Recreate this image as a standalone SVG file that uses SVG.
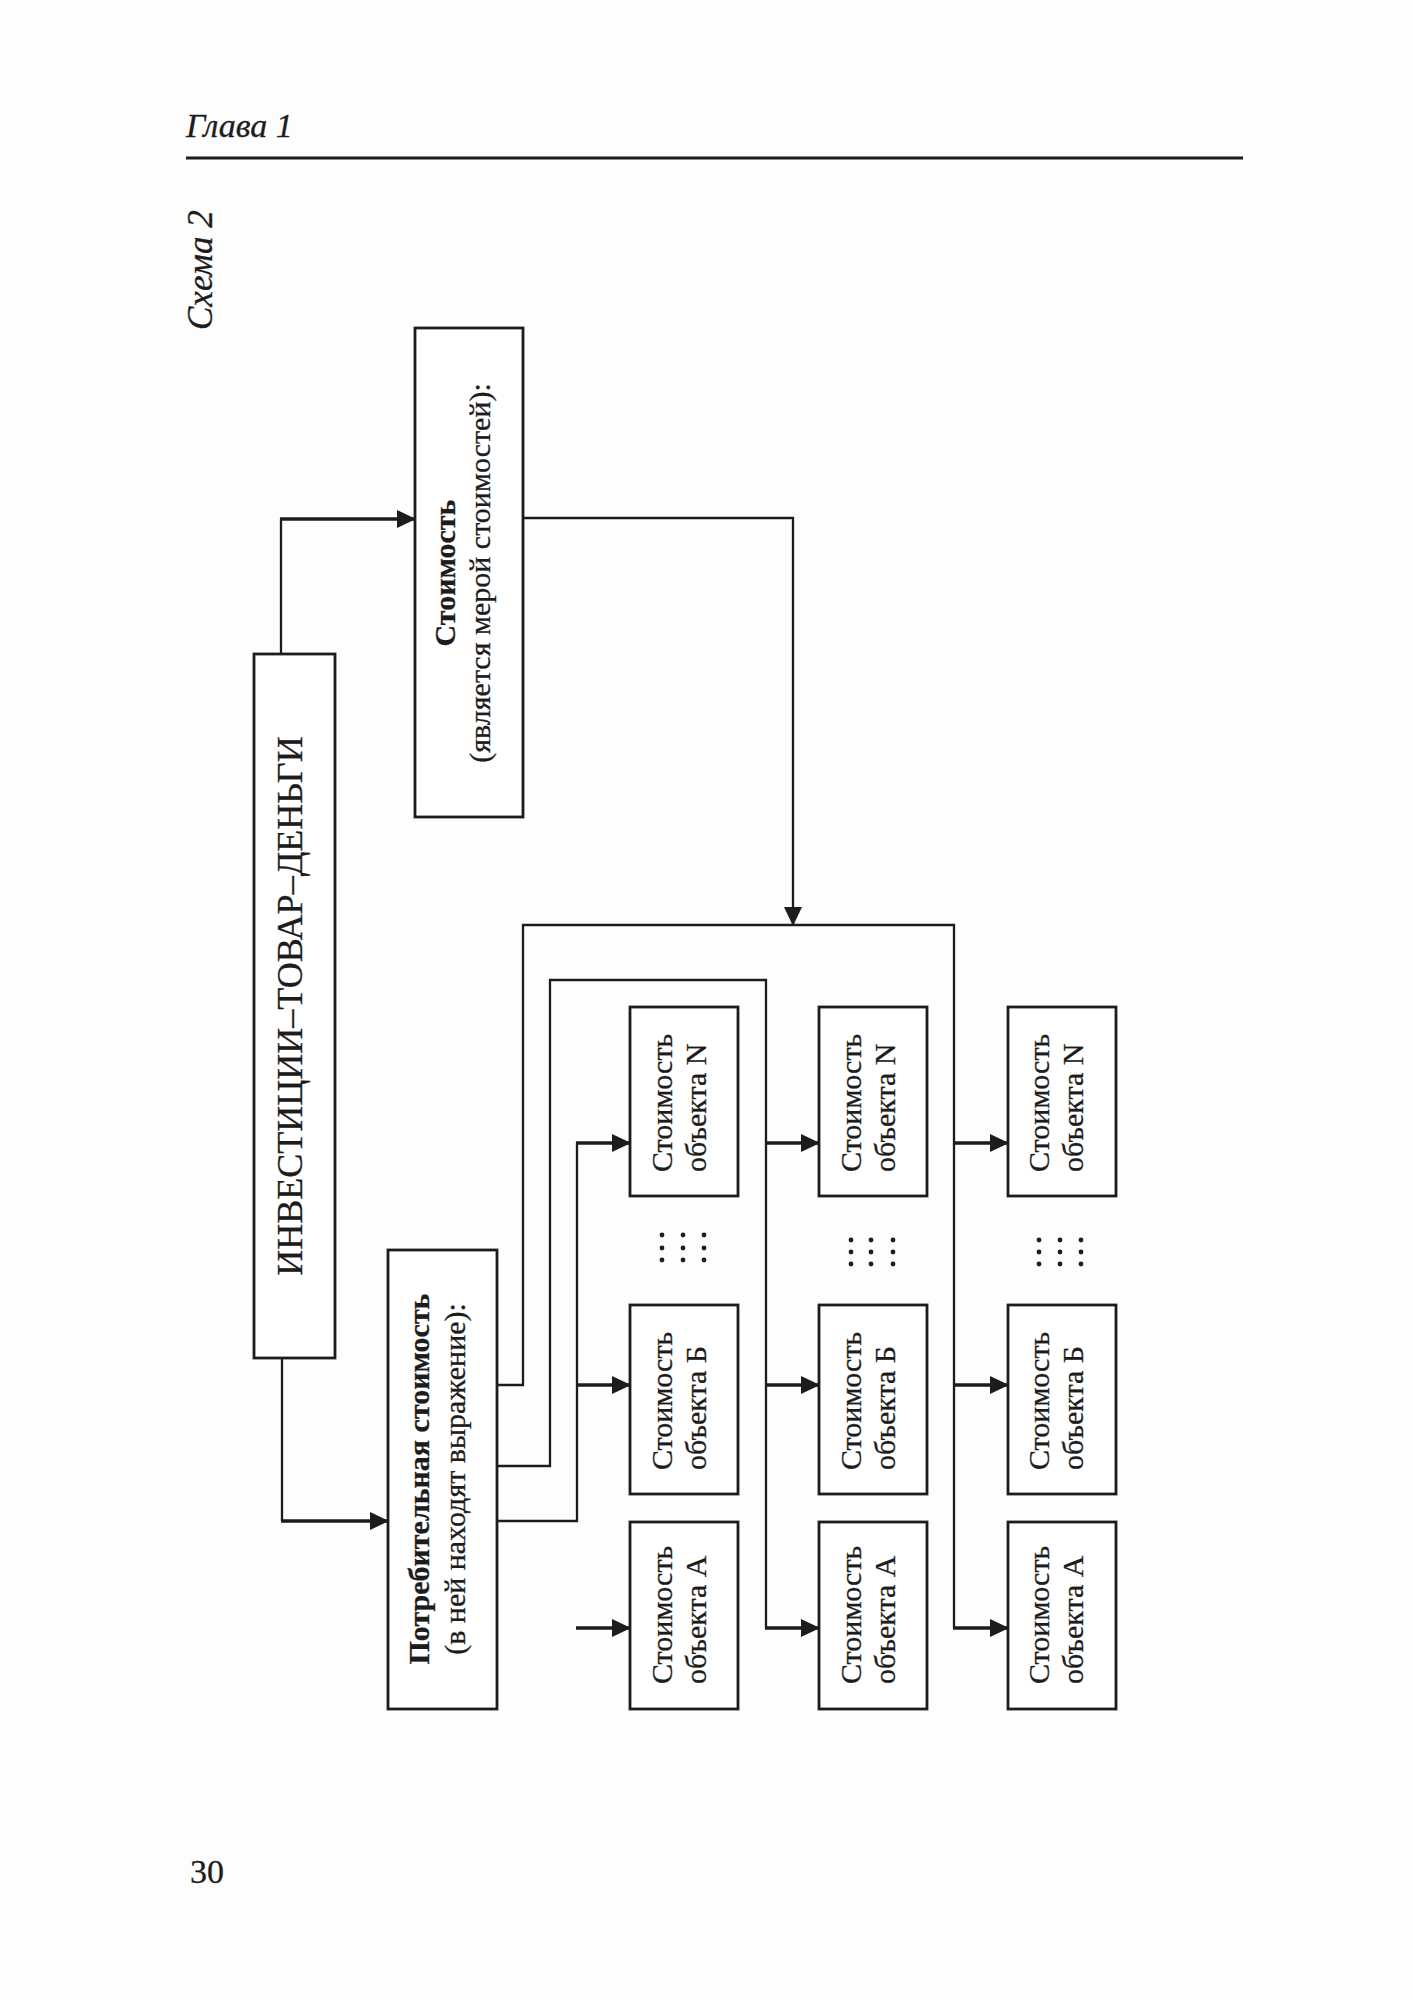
<svg xmlns="http://www.w3.org/2000/svg" width="1413" height="2000" viewBox="0 0 1413 2000">
<defs>
<style>
.bx{fill:#fff;stroke:#1c1c1c;stroke-width:2.8}
.cn{fill:none;stroke:#1c1c1c;stroke-width:2.3}
.ar{fill:none;stroke:#1c1c1c;stroke-width:3.3}
.t{font-family:"Liberation Serif","Times New Roman",serif;fill:#1c1c1c;stroke:#1c1c1c;stroke-width:0.3}
.ob{font-size:30px}
.b{font-weight:bold}
.it{font-style:italic}
.dot{fill:#1c1c1c}
</style>
<marker id="ah" viewBox="0 0 19 18" refX="18" refY="9" markerWidth="19" markerHeight="18" markerUnits="userSpaceOnUse" orient="auto">
<path d="M0,0 L19,9 L0,18 z" fill="#1c1c1c"/>
</marker>
</defs>
<rect width="1413" height="2000" fill="#fdfdfd"/>
<g id="header">
<text class="t it" x="186" y="137" font-size="34">Глава 1</text>
<line x1="186" y1="158" x2="1243" y2="158" stroke="#1c1c1c" stroke-width="2.8"/>
<text class="t it" font-size="35" transform="translate(212,330) rotate(-90)">Схема 2</text>
<text class="t" x="190" y="1883" font-size="34">30</text>
</g>
<g id="connectors">
<path class="cn" d="M281,654 V519"/>
<path class="ar" d="M280,519 H415" marker-end="url(#ah)"/>
<path class="cn" d="M282,1358 V1521"/>
<path class="ar" d="M281,1521 H388" marker-end="url(#ah)"/>
<path class="cn" d="M523,518 H793 V925" marker-end="url(#ah)"/>
<path class="cn" d="M497,1385 H523 V925 H954 V1628"/>
<path class="ar" d="M954,1143 H1008" marker-end="url(#ah)"/>
<path class="ar" d="M954,1385 H1008" marker-end="url(#ah)"/>
<path class="ar" d="M953,1628 H1008" marker-end="url(#ah)"/>
<path class="cn" d="M497,1466 H550 V980 H766 V1628"/>
<path class="ar" d="M766,1143 H819" marker-end="url(#ah)"/>
<path class="ar" d="M766,1385 H819" marker-end="url(#ah)"/>
<path class="ar" d="M765,1628 H819" marker-end="url(#ah)"/>
<path class="cn" d="M497,1521 H577 V1143"/>
<path class="ar" d="M576,1143 H630" marker-end="url(#ah)"/>
<path class="ar" d="M577,1385 H630" marker-end="url(#ah)"/>
<path class="ar" d="M576,1628 H630" marker-end="url(#ah)"/>
</g>
<g id="stoimost">
<rect class="bx" x="415" y="328" width="108" height="489"/>
<text class="t b" font-size="30" text-anchor="middle" transform="translate(455,573) rotate(-90)">Стоимость</text>
<text class="t" font-size="30" text-anchor="middle" transform="translate(490,573) rotate(-90)">(является мерой стоимостей):</text>
</g>
<g id="investicii">
<rect class="bx" x="254" y="654" width="81" height="704"/>
<text class="t" font-size="36" text-anchor="middle" transform="translate(302,1006) rotate(-90)">ИНВЕСТИЦИИ–ТОВАР–ДЕНЬГИ</text>
</g>
<g id="potrebitelnaya">
<rect class="bx" x="388" y="1250" width="109" height="459"/>
<text class="t b" font-size="30" text-anchor="middle" transform="translate(429,1479) rotate(-90)">Потребительная стоимость</text>
<text class="t" font-size="30" text-anchor="middle" transform="translate(465,1479) rotate(-90)">(в ней находят выражение):</text>
</g>
<g id="c1N"><rect class="bx" x="630" y="1007" width="108" height="189"/>
<text class="t ob" transform="translate(672,1172) rotate(-90)">Стоимость</text><text class="t ob" transform="translate(706,1172) rotate(-90)">объекта N</text></g>
<g id="c1B"><rect class="bx" x="630" y="1305" width="108" height="189"/>
<text class="t ob" transform="translate(672,1470) rotate(-90)">Стоимость</text><text class="t ob" transform="translate(706,1470) rotate(-90)">объекта Б</text></g>
<g id="c1A"><rect class="bx" x="630" y="1522" width="108" height="187"/>
<text class="t ob" transform="translate(672,1684) rotate(-90)">Стоимость</text><text class="t ob" transform="translate(706,1684) rotate(-90)">объекта А</text></g>
<g id="c2N"><rect class="bx" x="819" y="1007" width="108" height="189"/>
<text class="t ob" transform="translate(861,1172) rotate(-90)">Стоимость</text><text class="t ob" transform="translate(895,1172) rotate(-90)">объекта N</text></g>
<g id="c2B"><rect class="bx" x="819" y="1305" width="108" height="189"/>
<text class="t ob" transform="translate(861,1470) rotate(-90)">Стоимость</text><text class="t ob" transform="translate(895,1470) rotate(-90)">объекта Б</text></g>
<g id="c2A"><rect class="bx" x="819" y="1522" width="108" height="187"/>
<text class="t ob" transform="translate(861,1684) rotate(-90)">Стоимость</text><text class="t ob" transform="translate(895,1684) rotate(-90)">объекта А</text></g>
<g id="c3N"><rect class="bx" x="1008" y="1007" width="108" height="189"/>
<text class="t ob" transform="translate(1049,1172) rotate(-90)">Стоимость</text><text class="t ob" transform="translate(1083,1172) rotate(-90)">объекта N</text></g>
<g id="c3B"><rect class="bx" x="1008" y="1305" width="108" height="189"/>
<text class="t ob" transform="translate(1049,1470) rotate(-90)">Стоимость</text><text class="t ob" transform="translate(1083,1470) rotate(-90)">объекта Б</text></g>
<g id="c3A"><rect class="bx" x="1008" y="1522" width="108" height="187"/>
<text class="t ob" transform="translate(1049,1684) rotate(-90)">Стоимость</text><text class="t ob" transform="translate(1083,1684) rotate(-90)">объекта А</text></g>
<g id="dots">
<circle class="dot" cx="662" cy="1235" r="2.4"/><circle class="dot" cx="683" cy="1235" r="2.4"/><circle class="dot" cx="704" cy="1235" r="2.4"/>
<circle class="dot" cx="662" cy="1248" r="2.4"/><circle class="dot" cx="683" cy="1248" r="2.4"/><circle class="dot" cx="704" cy="1248" r="2.4"/>
<circle class="dot" cx="662" cy="1260" r="2.4"/><circle class="dot" cx="683" cy="1260" r="2.4"/><circle class="dot" cx="704" cy="1260" r="2.4"/>
<circle class="dot" cx="851" cy="1240" r="2.4"/><circle class="dot" cx="871" cy="1240" r="2.4"/><circle class="dot" cx="893" cy="1240" r="2.4"/>
<circle class="dot" cx="851" cy="1252" r="2.4"/><circle class="dot" cx="871" cy="1252" r="2.4"/><circle class="dot" cx="893" cy="1252" r="2.4"/>
<circle class="dot" cx="851" cy="1264" r="2.4"/><circle class="dot" cx="871" cy="1264" r="2.4"/><circle class="dot" cx="893" cy="1264" r="2.4"/>
<circle class="dot" cx="1039" cy="1240" r="2.4"/><circle class="dot" cx="1060" cy="1240" r="2.4"/><circle class="dot" cx="1081" cy="1240" r="2.4"/>
<circle class="dot" cx="1039" cy="1252" r="2.4"/><circle class="dot" cx="1060" cy="1252" r="2.4"/><circle class="dot" cx="1081" cy="1252" r="2.4"/>
<circle class="dot" cx="1039" cy="1264" r="2.4"/><circle class="dot" cx="1060" cy="1264" r="2.4"/><circle class="dot" cx="1081" cy="1264" r="2.4"/>
</g>
</svg>
